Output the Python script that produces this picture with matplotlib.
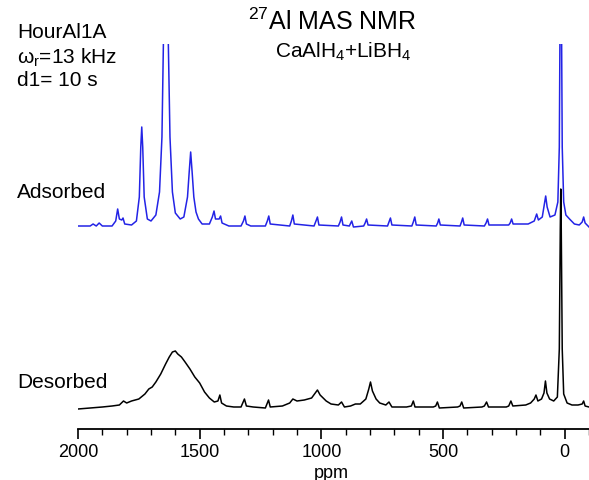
import numpy as np
import matplotlib.pyplot as plt
from matplotlib.ticker import MultipleLocator

plt.rcParams['font.family'] = ['Liberation Sans', 'DejaVu Sans']
plt.rcParams['mathtext.fontset'] = 'custom'
plt.rcParams['mathtext.rm'] = 'Liberation Sans'
plt.rcParams['mathtext.it'] = 'Liberation Sans:italic'

# adsorbed sample (blue), ppm and intensity above its own baseline
ads_ppm = [2000, 1950, 1938, 1925, 1913, 1900, 1860, 1845, 1837, 1830, 1820, 1815, 1808, 1780,
           1760, 1748, 1742, 1738, 1734, 1728, 1715, 1700, 1680, 1665, 1655, 1648, 1639, 1630,
           1622, 1612, 1600, 1580, 1565, 1550, 1543, 1537, 1531, 1524, 1515, 1505, 1490, 1460,
           1448, 1441, 1435, 1420, 1414, 1408, 1380, 1330, 1320, 1314, 1308, 1290, 1230, 1222,
           1216, 1210, 1130, 1123, 1117, 1111, 1030, 1022, 1016, 1010, 930, 923, 917, 911,
           885, 875, 868, 826, 820, 814, 808, 728, 722, 716, 710, 628, 622, 616, 610, 528,
           522, 517, 511, 430, 424, 419, 413, 330, 323, 317, 311, 230, 224, 218, 212, 150,
           125, 115, 108, 92, 84, 78, 72, 60, 40, 28, 22, 18, 16, 14, 10, 4, -5, -20, -40,
           -60, -72, -78, -84, -100]
ads_int = [1, 1, 3, 1, 4, 1, 1, 6, 18, 8, 7, 9, 3, 2,
           6, 30, 80, 100, 80, 30, 8, 6, 12, 35, 90, 200, 400, 200,
           90, 35, 14, 8, 10, 30, 55, 75, 55, 30, 15, 8, 3, 3,
           10, 16, 8, 8, 11, 4, 1, 1, 6, 11, 3, 1, 1, 6,
           11, 3, 1, 6, 12, 3, 1, 6, 10, 2, 1, 5, 10, 2,
           1, 6, 0, 1, 4, 8, 2, 1, 5, 9, 2, 1, 5, 10, 2, 1,
           4, 8, 2, 1, 5, 9, 2, 1, 4, 8, 2, 2, 4, 8, 3, 3,
           6, 13, 7, 10, 22, 31, 20, 10, 12, 25, 80, 250, 400, 250, 80, 25, 12, 8, 3,
           2, 5, 10, 4, 0]

# desorbed sample (black)
des_ppm = [2000, 1950, 1900, 1860, 1830, 1813, 1800, 1780, 1750, 1725, 1709, 1695, 1680, 1660,
           1640, 1625, 1612, 1600, 1590, 1575, 1560, 1540, 1520, 1500, 1480, 1460, 1440, 1425,
           1417, 1410, 1390, 1360, 1330, 1316, 1308, 1280, 1230, 1217, 1210, 1160, 1130, 1117,
           1100, 1070, 1040, 1025, 1016, 1005, 980, 960, 930, 917, 905, 880, 860, 840, 817,
           805, 798, 790, 775, 760, 735, 722, 710, 650, 630, 622, 615, 540, 530, 523, 515,
           440, 430, 423, 415, 340, 330, 321, 313, 240, 230, 221, 213, 160, 140, 125, 118,
           110, 95, 85, 79, 73, 62, 45, 30, 22, 18, 16, 14, 10, 4, -10, -30, -55, -72, -78,
           -84, -100]
des_int = [0, 1, 2, 3, 4, 8, 6, 8, 10, 15, 20, 22, 27, 35,
           45, 52, 57, 58, 55, 52, 47, 40, 32, 26, 17, 11, 7, 8,
           14, 6, 3, 2, 2, 10, 3, 2, 1, 9, 2, 3, 6, 10,
           8, 9, 11, 16, 19, 14, 8, 5, 4, 7, 2, 3, 5, 5, 10,
           20, 27, 18, 10, 6, 4, 7, 2, 2, 3, 8, 2, 2, 3, 7, 1,
           2, 3, 7, 1, 2, 3, 7, 2, 2, 3, 8, 3, 4, 6, 10, 14,
           8, 10, 16, 28, 16, 10, 8, 12, 60, 180, 220, 180, 60, 15, 6, 4, 4, 5, 8,
           3, 2]

ads_offset = 202
des_offset = 20

fig = plt.figure(figsize=(5.89, 4.81), dpi=100)
ax = fig.add_axes([78/589, 1 - 430/481, 1 - 78/589, 385/481])

ax.plot(ads_ppm, np.array(ads_int) + ads_offset, color='#2323e6', lw=1.1, zorder=2)
ax.plot(des_ppm, np.array(des_int) + des_offset, color='black', lw=1.1, zorder=3)

ax.set_xlim(2000, -100)
ax.set_ylim(0, 385)
for s in ['left', 'right', 'top']:
    ax.spines[s].set_visible(False)
ax.spines['bottom'].set_linewidth(1.3)
ax.set_yticks([])
ax.set_xticks([2000, 1500, 1000, 500, 0])
ax.xaxis.set_minor_locator(MultipleLocator(100))
ax.tick_params(axis='x', which='major', length=7, width=1.2, labelsize=13, pad=3)

ax.tick_params(axis='x', which='minor', length=4, width=1.0)

fig.text(331/589, 1 - 474/481, 'ppm', fontsize=13, va='center', ha='center')
fig.text(17/589, 1 - 33/481, 'HourAl1A', fontsize=15, va='center', ha='left')
fig.text(17/589, 1 - 58/481, r'$\mathregular{\omega_r}$=13 kHz', fontsize=15, va='center', ha='left')
fig.text(17/589, 1 - 81/481, 'd1= 10 s', fontsize=15, va='center', ha='left')
fig.text(332/589, 1 - 22/481, r'$\mathregular{^{27}}$Al MAS NMR', fontsize=18, va='center', ha='center')
fig.text(343/589, 1 - 52/481, r'CaAlH$\mathregular{_4}$+LiBH$\mathregular{_4}$', fontsize=15, va='center', ha='center')
fig.text(17/589, 1 - 192/481, 'Adsorbed', fontsize=15, va='center', ha='left')
fig.text(17/589, 1 - 383/481, 'Desorbed', fontsize=15, va='center', ha='left')

fig.savefig('out.png', dpi=100)
